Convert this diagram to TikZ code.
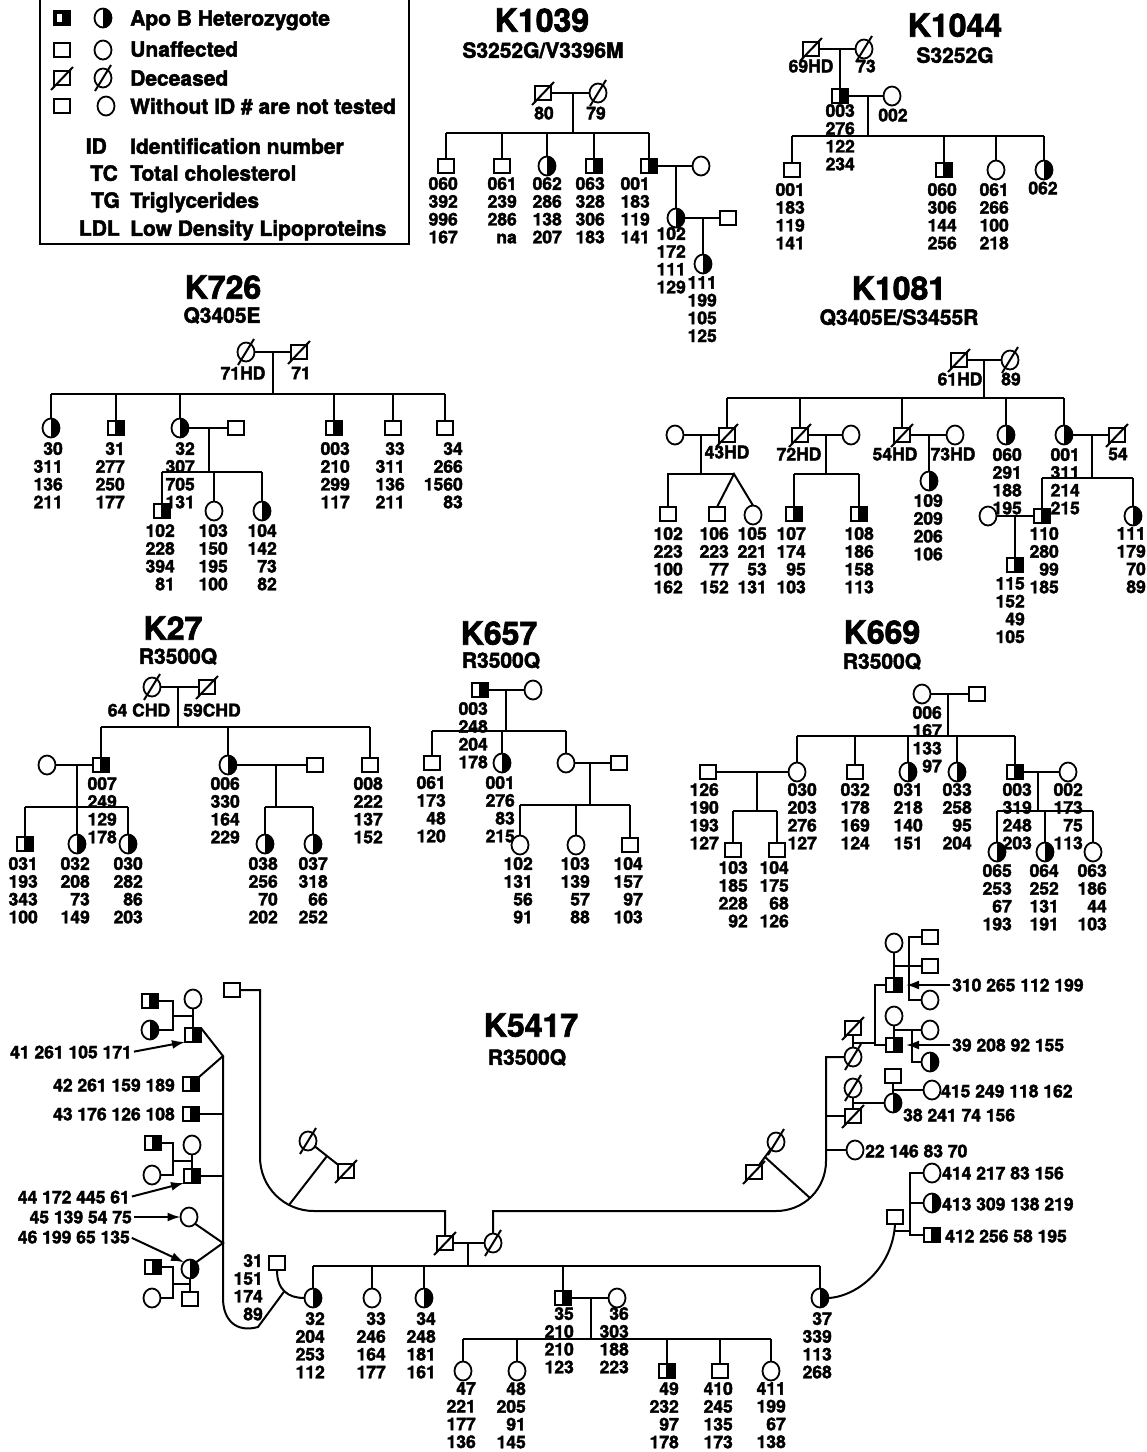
\documentclass[tikz,border=0pt]{standalone}
\usepackage{fontspec}
\setmainfont{TeX Gyre Heros}[BoldFeatures={FakeBold=2.2}]
\usetikzlibrary{shapes.geometric,arrows.meta}
\tikzset{
 ln/.style={line width=2pt},
 sym/.style={draw, line width=1.8pt, inner sep=0pt, outer sep=0pt, fill=white},
 sq/.style={sym, rectangle, minimum width=16pt, minimum height=14pt},
 ci/.style={sym, ellipse, minimum width=17pt, minimum height=19pt},
 hsq/.style={sq, path picture={\fill[black] ([xshift=-1pt]path picture bounding box.north) rectangle (path picture bounding box.south east);}},
 hci/.style={ci, path picture={\fill[black] (path picture bounding box.north) rectangle (path picture bounding box.south east);}},
 legsq/.style={sq, fill=black, path picture={\fill[white] ([shift={(3pt,-3pt)}]path picture bounding box.north west) rectangle ([shift={(8pt,-11pt)}]path picture bounding box.north west);}},
 stk/.style={font=\fontsize{17.5}{17.8}\selectfont\bfseries, align=right, inner sep=0pt, anchor=north east},
 lbl/.style={font=\fontsize{17.5}{18}\selectfont\bfseries, inner sep=0pt, text depth=0pt},
 ttl/.style={font=\fontsize{32}{34}\selectfont\bfseries, inner sep=0pt, text depth=0pt},
 subt/.style={font=\fontsize{21}{22}\selectfont\bfseries, inner sep=0pt, text depth=0pt},
 leg/.style={font=\fontsize{21}{22}\selectfont\bfseries, inner sep=0pt, text depth=0pt},
 arr/.style={ln, -{Latex[length=13pt,width=9pt]}, shorten <=2pt},
}
\newcommand\pSq[3]{\node[sq] (#1) at (#2,#3) {};}
\newcommand\pHs[3]{\node[hsq] (#1) at (#2,#3) {};}
\newcommand\pCi[3]{\node[ci] (#1) at (#2,#3) {};}
\newcommand\pHc[3]{\node[hci] (#1) at (#2,#3) {};}
\newcommand\pDs[3]{\node[sq] (#1) at (#2,#3) {};\draw[ln] ([shift={(-11pt,-12pt)}]#1.center) -- ([shift={(11pt,11pt)}]#1.center);}
\newcommand\pDc[3]{\node[ci] (#1) at (#2,#3) {};\draw[ln] ([shift={(-8pt,-13pt)}]#1.center) -- ([shift={(8pt,13pt)}]#1.center);}
\newcommand\pSt[4]{\node[stk] (#1) at (#2,#3) {#4};}
\newcommand\pLb[4]{\node[lbl] (#1) at (#2,#3) {#4};}
\newcommand\pKids[2]{\foreach \nn in {#2} {\draw[ln] (\nn.north) -- (\nn.north |- #1);}}
\begin{document}
\begin{tikzpicture}[x=1pt,y=-1pt]
\useasboundingbox (0,0) rectangle (1147,1452);
\fill[white] (0,0) rectangle (1147,1452);
\clip (0,0) rectangle (1147,1452);

% ---------------- legend
\draw[ln] (40,-5) rectangle (409,244);
\node[legsq] (L1s) at (62,18) {}; \pHc{L1c}{103}{18}
\pSq{L2s}{62}{50} \pCi{L2c}{103}{50}
\pDs{L3s}{62}{78} \pDc{L3c}{103}{78}
\pSq{L4s}{62}{106} \pCi{L4c}{106}{106}
\node[leg,anchor=west] (L1t) at (130,18) {Apo B Heterozygote};
\node[leg,anchor=west] (L2t) at (130,49) {Unaffected};
\node[leg,anchor=west] (L3t) at (130,78) {Deceased};
\node[leg,anchor=west] (L4t) at (130,106) {Without ID \# are not tested};
\node[leg,anchor=west] (L5t) at (130,146) {Identification number};
\node[leg,anchor=west] (L6t) at (130,173) {Total cholesterol};
\node[leg,anchor=west] (L7t) at (130,200) {Triglycerides};
\node[leg,anchor=west] (L8t) at (130,228) {Low Density Lipoproteins};
\node[leg,anchor=east] (L5a) at (107,146) {ID};
\node[leg,anchor=east] (L6a) at (118,173) {TC};
\node[leg,anchor=east] (L7a) at (120,200) {TG};
\node[leg,anchor=east] (L8a) at (120,228) {LDL};

% ---------------- K1039
\node[ttl] (tA) at (542,20) {K1039};
\node[subt] (uA) at (543,50) {S3252G/V3396M};
\pDs{a80}{543}{93} \pDc{a79}{598}{93}
\pLb{a80l}{544}{113}{80} \pLb{a79l}{596}{113}{79}
\draw[ln] (a80) -- (a79);
\coordinate (aM) at (573,93); \coordinate (sA) at (0,133);
\draw[ln] (aM) -- (aM |- sA);
\pSq{a060}{446}{166} \pSq{a061}{502}{166} \pHc{a062}{547}{166} \pHs{a063}{594}{166} \pHs{a001}{649}{166}
\draw[ln] (a060.north |- sA) -- (a001.north |- sA);
\pKids{sA}{a060,a061,a062,a063,a001}
\pCi{a001w}{701}{166} \draw[ln] (a001) -- (a001w);
\pHc{a102}{676}{218} \draw[ln] (676,166) -- (a102.north);
\pSq{a102h}{728}{218} \draw[ln] (a102) -- (a102h);
\pHc{a111}{703}{264} \draw[ln] (703,218) -- (a111.north);
\pSt{a060s}{458}{177}{060\\392\\996\\167}
\pSt{a061s}{517}{177}{061\\239\\286\\na}
\pSt{a062s}{562}{177}{062\\286\\138\\207}
\pSt{a063s}{605}{177}{063\\328\\306\\183}
\pSt{a001s}{650}{177}{001\\183\\119\\141}
\pSt{a102s}{686}{227}{102\\172\\111\\129}
\pSt{a111s}{717}{276}{111\\199\\105\\125}

% ---------------- K1044
\node[ttl] (tB) at (955,25) {K1044};
\node[subt] (uB) at (955,55) {S3252G};
\pDs{b69}{811}{49} \pDc{b73}{864}{49}
\pLb{b69l}{811}{66}{69HD} \pLb{b73l}{866}{66}{73}
\draw[ln] (b69) -- (b73);
\pHs{b003}{840}{96} \draw[ln] (840,49) -- (b003.north);
\pCi{b002}{892}{96} \draw[ln] (b003) -- (b002);
\coordinate (bM) at (868,96); \coordinate (sB) at (0,136);
\draw[ln] (bM) -- (bM |- sB);
\pSq{b001}{792}{170} \pHs{b060}{944}{170} \pCi{b061}{996}{170} \pHc{b062}{1044}{170}
\draw[ln] (b001.north |- sB) -- (b062.north |- sB);
\pKids{sB}{b001,b060,b061,b062}
\pSt{b003s}{855}{104}{003\\276\\122\\234}
\pLb{b002l}{893}{115}{002}
\pSt{b001s}{805}{183}{001\\183\\119\\141}
\pSt{b060s}{957}{183}{060\\306\\144\\256}
\pSt{b061s}{1009}{183}{061\\266\\100\\218}
\pLb{b062l}{1043}{188}{062}

% ---------------- K726
\node[ttl] (tC) at (223,287) {K726};
\node[subt] (uC) at (222,315) {Q3405E};
\pDc{c71a}{246}{352} \pDs{c71b}{299}{352}
\pLb{c71al}{243}{373}{71HD} \pLb{c71bl}{301}{373}{71}
\draw[ln] (c71a) -- (c71b);
\coordinate (cM) at (273,352); \coordinate (sC) at (0,394);
\draw[ln] (cM) -- (cM |- sC);
\pHc{c30}{51}{428} \pHs{c31}{116}{428} \pHc{c32}{180}{428} \pHs{c003}{334}{428} \pSq{c33}{393}{428} \pSq{c34}{445}{428}
\draw[ln] (c30.north |- sC) -- (c34.north |- sC);
\pKids{sC}{c30,c31,c32,c003,c33,c34}
\pSq{c32h}{236}{428} \draw[ln] (c32) -- (c32h);
\coordinate (cM2) at (209,428); \coordinate (sC2) at (0,472);
\draw[ln] (cM2) -- (cM2 |- sC2);
\pHs{c102}{162}{511} \pCi{c103}{214}{511} \pHc{c104}{262}{511}
\draw[ln] (c102.north |- sC2) -- (c104.north |- sC2);
\pKids{sC2}{c102,c103,c104}
\pSt{c30s}{63}{442}{30\\311\\136\\211}
\pSt{c31s}{125}{442}{31\\277\\250\\177}
\pSt{c32s}{195}{442}{32\\307\\705\\131}
\pSt{c003s}{350}{442}{003\\210\\299\\117}
\pSt{c33s}{405}{442}{33\\311\\136\\211}
\pSt{c34s}{463}{442}{34\\266\\1560\\83}
\pSt{c102s}{175}{524}{102\\228\\394\\81}
\pSt{c103s}{228}{524}{103\\150\\195\\100}
\pSt{c104s}{277}{524}{104\\142\\73\\82}

% ---------------- K1081
\node[ttl] (tD) at (899,288) {K1081};
\node[subt] (uD) at (899,317) {Q3405E/S3455R};
\pDs{d61}{959}{360} \pDc{d89}{1010}{360}
\pLb{d61l}{960}{379}{61HD} \pLb{d89l}{1011}{379}{89}
\draw[ln] (d61) -- (d89);
\coordinate (dM) at (984,360); \coordinate (sD) at (0,398);
\draw[ln] (dM) -- (dM |- sD);
\pDs{dA}{727}{435} \pDs{dB}{800}{435} \pDs{dC}{902}{435} \pHc{dD}{1006}{435} \pHc{dE}{1064}{435}
\draw[ln] (dA.north |- sD) -- (dE.north |- sD);
\pKids{sD}{dA,dB,dC,dD,dE}
% A
\pCi{dAw}{675}{435} \draw[ln] (dAw) -- (dA);
\pLb{dAl}{727}{452}{43HD}
\coordinate (dAm) at (701,435); \coordinate (sDA) at (0,474); \coordinate (dTw) at (734,474);
\draw[ln] (dAm) -- (dAm |- sDA);
\pSq{d102}{668}{514} \pSq{d106}{717}{514} \pCi{d105}{753}{515}
\draw[ln] (d102.north) -- (d102.north |- sDA) -- (dTw);
\draw[ln] (d106.north) -- (dTw) -- (d105.north);
% B
\pLb{dBl}{799}{454}{72HD}
\pCi{dBw}{851}{435} \draw[ln] (dB) -- (dBw);
\coordinate (dBm) at (826,435); \draw[ln] (dBm) -- (dBm |- sDA);
\pHs{d107}{794}{514} \pHs{d108}{859}{514}
\draw[ln] (d107.north |- sDA) -- (d108.north |- sDA);
\pKids{sDA}{d107,d108}
% C
\pLb{dCl}{895}{454}{54HD}
\pCi{dCw}{955}{435} \draw[ln] (dC) -- (dCw);
\pLb{dCwl}{953}{454}{73HD}
\pHc{d109}{929}{481} \draw[ln] (929,435) -- (d109.north);
% D, E
\pSt{dDs}{1022}{448}{060\\291\\188\\195}
\pSt{dEs}{1080}{448}{001\\311\\214\\215}
\pDs{dEh}{1117}{435} \draw[ln] (dE) -- (dEh);
\pLb{dEhl}{1118}{454}{54}
\coordinate (dEm) at (1092,435); \coordinate (sDE) at (0,478);
\draw[ln] (dEm) -- (dEm |- sDE);
\pHs{d110}{1042}{516} \pHc{d111}{1133}{516}
\draw[ln] (d110.north |- sDE) -- (d111.north |- sDE);
\pKids{sDE}{d110,d111}
\pCi{d110w}{988}{516} \draw[ln] (d110w) -- (d110);
\pHs{d115}{1015}{565} \draw[ln] (1015,516) -- (d115.north);
\pSt{d102s}{683}{527}{102\\223\\100\\162}
\pSt{d106s}{729}{527}{106\\223\\77\\152}
\pSt{d105s}{767}{527}{105\\221\\53\\131}
\pSt{d107s}{806}{527}{107\\174\\95\\103}
\pSt{d108s}{874}{527}{108\\186\\158\\113}
\pSt{d109s}{943}{494}{109\\209\\206\\106}
\pSt{d110s}{1059}{527}{110\\280\\99\\185}
\pSt{d111s}{1146}{527}{111\\179\\70\\89}
\pSt{d115s}{1025}{577}{115\\152\\49\\105}

% ---------------- K27
\node[ttl] (tE) at (173,628) {K27};
\node[subt] (uE) at (178,656) {R3500Q};
\pDc{e64}{152}{687} \pDs{e59}{207}{687}
\pLb{e64l}{139}{710}{64 CHD} \pLb{e59l}{212}{710}{59CHD}
\draw[ln] (e64) -- (e59);
\coordinate (eM) at (178,687); \coordinate (sE) at (0,727);
\draw[ln] (eM) -- (eM |- sE);
\pHs{e007}{101}{765} \pHc{e006}{228}{765} \pSq{e008}{370}{765}
\draw[ln] (e007.north |- sE) -- (e008.north |- sE);
\pKids{sE}{e007,e006,e008}
\pCi{e007w}{47}{765} \draw[ln] (e007w) -- (e007);
\coordinate (eM2) at (77,765); \coordinate (sE2) at (0,807);
\draw[ln] (eM2) -- (eM2 |- sE2);
\pHs{e031}{25}{844} \pHc{e032}{77}{844} \pHc{e030}{128}{844}
\draw[ln] (e031.north |- sE2) -- (e030.north |- sE2);
\pKids{sE2}{e031,e032,e030}
\pSq{e006h}{315}{765} \draw[ln] (e006) -- (e006h);
\coordinate (eM3) at (276,765); \draw[ln] (eM3) -- (eM3 |- sE2);
\pHc{e038}{265}{844} \pHc{e037}{313}{844}
\draw[ln] (e038.north |- sE2) -- (e037.north |- sE2);
\pKids{sE2}{e038,e037}
\pSt{e007s}{117}{777}{007\\249\\129\\178}
\pSt{e006s}{240}{777}{006\\330\\164\\229}
\pSt{e008s}{383}{777}{008\\222\\137\\152}
\pSt{e031s}{38}{857}{031\\193\\343\\100}
\pSt{e032s}{90}{857}{032\\208\\73\\149}
\pSt{e030s}{143}{857}{030\\282\\86\\203}
\pSt{e038s}{278}{857}{038\\256\\70\\202}
\pSt{e037s}{328}{857}{037\\318\\66\\252}

% ---------------- K657
\node[ttl] (tF) at (499,633) {K657};
\node[subt] (uF) at (501,660) {R3500Q};
\pHs{f003}{480}{690} \pCi{f003w}{533}{690}
\draw[ln] (f003) -- (f003w);
\coordinate (fM) at (506,690); \coordinate (sF) at (0,731);
\draw[ln] (fM) -- (fM |- sF);
\pSq{f061}{432}{763} \pHc{f001}{502}{763} \pCi{fD}{566}{763}
\draw[ln] (f061.north |- sF) -- (fD.north |- sF);
\pKids{sF}{f061,f001,fD}
\pSq{fDh}{619}{763} \draw[ln] (fD) -- (fDh);
\coordinate (fM2) at (590,763); \coordinate (sF2) at (0,805);
\draw[ln] (fM2) -- (fM2 |- sF2);
\pCi{f102}{520}{845} \pCi{f103}{576}{845} \pSq{f104}{630}{845}
\draw[ln] (f102.north |- sF2) -- (f104.north |- sF2);
\pKids{sF2}{f102,f103,f104}
\pSt{f003s}{488}{702}{003\\248\\204\\178}
\pSt{f061s}{446}{776}{061\\173\\48\\120}
\pSt{f001s}{515}{776}{001\\276\\83\\215}
\pSt{f102s}{533}{857}{102\\131\\56\\91}
\pSt{f103s}{590}{857}{103\\139\\57\\88}
\pSt{f104s}{643}{857}{104\\157\\97\\103}

% ---------------- K669
\node[ttl] (tG) at (882,632) {K669};
\node[subt] (uG) at (882,661) {R3500Q};
\pCi{g006}{922}{694} \pSq{g006h}{977}{694}
\draw[ln] (g006) -- (g006h);
\coordinate (gM) at (948,694); \coordinate (sG) at (0,736);
\draw[ln] (gM) -- (gM |- sG);
\pCi{g030}{797}{772} \pSq{g032}{855}{772} \pHc{g031}{908}{772} \pHc{g033}{957}{772} \pHs{g003}{1015}{772}
\draw[ln] (g030.north |- sG) -- (g003.north |- sG);
\pKids{sG}{g030,g032,g031,g033,g003}
\pSq{g126}{708}{772} \draw[ln] (g126) -- (g030);
\coordinate (gM2) at (757,772); \coordinate (sG2) at (0,811);
\draw[ln] (gM2) -- (gM2 |- sG2);
\pSq{g103}{733}{850} \pSq{g104}{777}{850}
\draw[ln] (g103.north |- sG2) -- (g104.north |- sG2);
\pKids{sG2}{g103,g104}
\pCi{g002}{1068}{772} \draw[ln] (g003) -- (g002);
\coordinate (gM3) at (1038,772); \draw[ln] (gM3) -- (gM3 |- sG2);
\pHc{g065}{997}{852} \pHc{g064}{1045}{852} \pCi{g063}{1093}{852}
\draw[ln] (g065.north |- sG2) -- (g063.north |- sG2);
\pKids{sG2}{g065,g064,g063}
\pSt{g006s}{942}{706}{006\\167\\133\\97}
\pSt{g126s}{719}{783}{126\\190\\193\\127}
\pSt{g030s}{817}{783}{030\\203\\276\\127}
\pSt{g032s}{870}{783}{032\\178\\169\\124}
\pSt{g031s}{923}{783}{031\\218\\140\\151}
\pSt{g033s}{972}{783}{033\\258\\95\\204}
\pSt{g003s}{1032}{783}{003\\319\\248\\203}
\pSt{g002s}{1083}{783}{002\\173\\75\\113}
\pSt{g103s}{748}{861}{103\\185\\228\\92}
\pSt{g104s}{789}{861}{104\\175\\68\\126}
\pSt{g065s}{1012}{864}{065\\253\\67\\193}
\pSt{g064s}{1059}{864}{064\\252\\131\\191}
\pSt{g063s}{1107}{864}{063\\186\\44\\103}

% ---------------- K5417
\node[ttl] (tH) at (531,1025) {K5417};
\node[subt] (uH) at (527,1057) {R3500Q};
\pDs{hF}{445}{1243} \pDc{hM}{493}{1243}
\draw[ln] (hF) -- (hM);
\coordinate (hFM) at (468,1243); \coordinate (sH) at (0,1266);
\draw[ln] (hFM) -- (hFM |- sH);
\pHc{h32}{313}{1298} \pCi{h33}{372}{1298} \pHc{h34}{424}{1298} \pHs{h35}{563}{1298} \pHc{h37}{820}{1298}
\draw[ln] (h32.north |- sH) -- (h37.north |- sH);
\pKids{sH}{h32,h33,h34,h35,h37}
\pCi{h36}{617}{1298} \draw[ln] (h35) -- (h36);
\coordinate (hM2) at (591,1298); \coordinate (sH2) at (0,1339);
\draw[ln] (hM2) -- (hM2 |- sH2);
\pCi{h47}{463}{1371} \pCi{h48}{517}{1371} \pHs{h49}{667}{1371} \pSq{h410}{720}{1371} \pCi{h411}{771}{1371}
\draw[ln] (h47.north |- sH2) -- (h411.north |- sH2);
\pKids{sH2}{h47,h48,h49,h410,h411}
\pSt{h32s}{325}{1312}{32\\204\\253\\112}
\pSt{h33s}{386}{1312}{33\\246\\164\\177}
\pSt{h34s}{436}{1312}{34\\248\\181\\161}
\pSt{h35s}{574}{1307}{35\\210\\210\\123}
\pSt{h36s}{629}{1307}{36\\303\\188\\223}
\pSt{h37s}{832}{1312}{37\\339\\113\\268}
\pSt{h47s}{476}{1382}{47\\221\\177\\136}
\pSt{h48s}{526}{1382}{48\\205\\91\\145}
\pSt{h49s}{679}{1382}{49\\232\\97\\178}
\pSt{h410s}{733}{1382}{410\\245\\135\\173}
\pSt{h411s}{786}{1382}{411\\199\\67\\138}
% left U
\pSq{hTop}{232}{990}
\draw[ln] (hTop.east) -- (260,990) -- (260,1157) .. controls (260,1187) and (284,1211) .. (314,1211) -- (445,1211) -- (hF.north);
\pDc{hLc}{308}{1141} \pDs{hLs}{346}{1171}
\draw[ln] (hLc) -- (hLs);
\draw[ln] (327,1156) -- (289,1205);
% 31 - 32
\pSq{h31}{277}{1263}
\pSt{h31s}{263}{1254}{31\\151\\174\\89}
\draw[ln] (h31.south) .. controls (277,1290) and (288,1298) .. (h32.west);
\draw[ln] (284.5,1291) -- (258,1327) .. controls (236,1333) and (223,1320) .. (223,1298) -- (223,1056);
\pHs{h41}{193}{1035} \pHs{h42}{191}{1084} \pHs{h43}{191}{1114} \pHs{h44}{192}{1176} \pCi{h45}{189}{1217} \pHc{h46}{190}{1269}
\coordinate (hT1) at (223,1056); \coordinate (hT2) at (223,1243);
\draw[ln] (h41.north east) -- (hT1) -- (h42.north east);
\draw[ln] (h43.east) -- (223,1114);
\draw[ln] (h44.east) -- (223,1176);
\draw[ln] (h45.south east) -- (hT2) -- (h46.north east);
% 41 family
\pCi{h41w}{193}{999} \pHs{h41s}{150}{1001} \pHc{h41d}{150}{1030}
\draw[ln] (h41w.south) -- (h41.north);
\draw[ln] (193,1016) -- (173,1016);
\draw[ln] (h41s.east) -- (173,1001) -- (173,1030) -- (h41d.east);
% 44 family
\pCi{h44w}{192}{1145} \pHs{h44s}{153}{1143} \pCi{h44d}{152}{1175}
\draw[ln] (h44w.south) -- (h44.north);
\draw[ln] (192,1161) -- (173,1161);
\draw[ln] (h44s.east) -- (173,1143) -- (173,1175) -- (h44d.east);
% 46 family
\pSq{h46h}{190}{1299} \pHs{h46s}{153}{1267} \pCi{h46d}{152}{1298}
\draw[ln] (h46.south) -- (h46h.north);
\draw[ln] (190,1284) -- (173,1284);
\draw[ln] (h46s.east) -- (173,1267) -- (173,1298) -- (h46d.east);
% left labels
\node[lbl,anchor=east] (l41) at (132,1052) {41 261 105 171};
\node[lbl,anchor=east] (l42) at (175,1085) {42 261 159 189};
\node[lbl,anchor=east] (l43) at (175,1114) {43 176 126 108};
\node[lbl,anchor=east] (l44) at (130,1197) {44 172 445 61};
\node[lbl,anchor=east] (l45) at (132,1217) {45 139 54 75};
\node[lbl,anchor=east] (l46) at (130,1237) {46 199 65 135};
\draw[arr] (l41.east) -- (h41.south west);
\draw[arr] (l44.east) -- (h44.south west);
\draw[arr] (l45.east) -- (h45.west);
\draw[arr] (l46.east) -- (h46.north west);
% right branch
\pDs{rAh}{853}{1028} \pDc{rA}{853}{1057}
\draw[ln] (rAh.south) -- (rA.north);
\draw[ln] (853,1043) -- (875,1043);
\pHs{r310}{894}{985} \pHs{r39}{894}{1045}
\draw[ln] (r310.west) -- (875,985) -- (875,1045) -- (r39.west);
\pCi{r310w}{894}{943}
\draw[ln] (r310w.south) -- (r310.north);
\pSq{r310a}{930}{937} \pSq{r310b}{930}{966} \pCi{r310c}{930}{1000}
\draw[ln] (894,966) -- (r310b.west);
\draw[ln] (r310a.west) -- (909,937) -- (909,1000) -- (r310c.west);
\pCi{r39w}{894}{1016}
\draw[ln] (r39w.south) -- (r39.north);
\pCi{r39a}{930}{1030} \pHc{r39b}{930}{1062}
\draw[ln] (894,1030) -- (r39a.west);
\draw[ln] (912,1030) -- (912,1062) -- (r39b.west);
\node[lbl,anchor=west] (t310) at (952,985) {310 265 112 199};
\node[lbl,anchor=west] (t39) at (952,1045) {39 208 92 155};
\draw[arr] (t310.west) -- ([xshift=4pt]r310.east);
\draw[arr] (t39.west) -- ([xshift=4pt]r39.east);
\pDc{rBw}{853}{1088} \pDs{rB}{853}{1116}
\draw[ln] (rBw.south) -- (rB.north);
\pHc{r38}{893}{1103}
\draw[ln] (853,1103) -- (r38.west);
\pSq{r38h}{893}{1076}
\draw[ln] (r38h.south) -- (r38.north);
\pCi{r415}{932}{1090}
\draw[ln] (893,1090) -- (r415.west);
\node[lbl,anchor=west] (t415) at (941,1091) {415 249 118 162};
\node[lbl,anchor=west] (t38) at (903,1115) {38 241 74 156};
\pCi{r22}{855}{1150}
\node[lbl,anchor=west] (t22) at (865,1151) {22 146 83 70};
% right U
\draw[ln] (hM.north) -- (493,1211) -- (776,1211) .. controls (804,1211) and (826,1189) .. (826,1161) -- (826,1057) -- (rA.west);
\draw[ln] (826,1116) -- (rB.west);
\draw[ln] (826,1150) -- (r22.west);
\pDc{hRc}{776}{1142} \pDs{hRs}{754}{1172}
\draw[ln] (hRc) -- (hRs);
\draw[ln] (765,1157) -- (810,1198);
% 37 family
\pSq{r37h}{895}{1217}
\draw[ln] (h37.east) .. controls (860,1296) and (893,1265) .. (r37h.south);
\draw[ln] (894.5,1231) -- (910,1231);
\pCi{r414}{932}{1173} \pHc{r413}{932}{1203} \pHs{r412}{932}{1235}
\draw[ln] (r414.west) -- (910,1173) -- (910,1235) -- (r412.west);
\draw[ln] (910,1203) -- (r413.west);
\node[lbl,anchor=west] (t414) at (942,1173) {414 217 83 156};
\node[lbl,anchor=west] (t413) at (942,1204) {413 309 138 219};
\node[lbl,anchor=west] (t412) at (945,1236) {412 256 58 195};
\end{tikzpicture}
\end{document}
